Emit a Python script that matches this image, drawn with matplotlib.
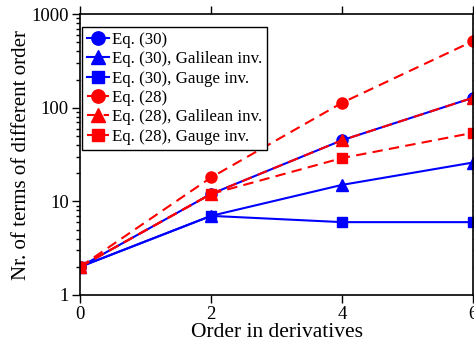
import matplotlib.pyplot as plt
from matplotlib.ticker import LogLocator, NullFormatter, FixedLocator

plt.rcParams['font.family'] = ['Liberation Serif', 'DejaVu Serif']
plt.rcParams['mathtext.fontset'] = 'stix'

# Données
order = [0, 2, 4, 6]
eq30 = [2, 12, 45, 128]
eq30_gal = [2, 7, 15, 26]
eq30_gauge = [2, 7, 6, 6]
eq28 = [2, 18, 113, 515]
eq28_gal = [2, 12, 45, 128]
eq28_gauge = [2, 12, 29, 54]

fig = plt.figure(figsize=(4.74, 3.45), dpi=100)
ax = fig.add_axes([0.169, 0.145, 0.829, 0.814])

dash = (0, (5, 3))
ax.plot(order, eq30, color='blue', marker='o', ms=8, lw=1.5, label='Eq. (30)')
ax.plot(order, eq30_gal, color='blue', marker='^', ms=8, lw=1.5, label='Eq. (30), Galilean inv.')
ax.plot(order, eq30_gauge, color='blue', marker='s', ms=7.5, lw=1.5, label='Eq. (30), Gauge inv.')
ax.plot(order, eq28, color='red', marker='o', ms=8, lw=1.5, ls=dash, label='Eq. (28)')
ax.plot(order, eq28_gal, color='red', marker='^', ms=8, lw=1.5, ls=dash, label='Eq. (28), Galilean inv.')
ax.plot(order, eq28_gauge, color='red', marker='s', ms=7.5, lw=1.5, ls=dash, label='Eq. (28), Gauge inv.')

ax.set_yscale('log')
ax.set_ylim(1, 1000)
ax.set_xlim(0, 6)
ax.xaxis.set_major_locator(FixedLocator(order))
ax.yaxis.set_minor_locator(LogLocator(base=10, subs=range(2, 10)))
ax.yaxis.set_minor_formatter(NullFormatter())
ax.set_yticks([1, 10, 100, 1000])
ax.set_yticklabels(['1', '10', '100', '1000'])

ax.tick_params(axis='both', which='major', direction='out', length=6, width=1, labelsize=13.5,
               top=True, right=True, pad=2)
ax.tick_params(axis='y', which='minor', direction='out', length=3, width=1, right=True)
for s in ax.spines.values():
    s.set_linewidth(1.2)

ax.set_xlabel('Order in derivatives', fontsize=15.5, labelpad=0)
ax.set_ylabel('Nr. of terms of different order', fontsize=15, labelpad=0)

leg = ax.legend(loc='upper left', bbox_to_anchor=(0.005, 0.955), fontsize=12.2, fancybox=False,
                edgecolor='black', handlelength=1.3, handletextpad=0.15, borderpad=0.3,
                labelspacing=0.2, borderaxespad=0, framealpha=1, markerscale=1.2)
leg.get_frame().set_linewidth(1)

plt.savefig('out.png', dpi=100)
